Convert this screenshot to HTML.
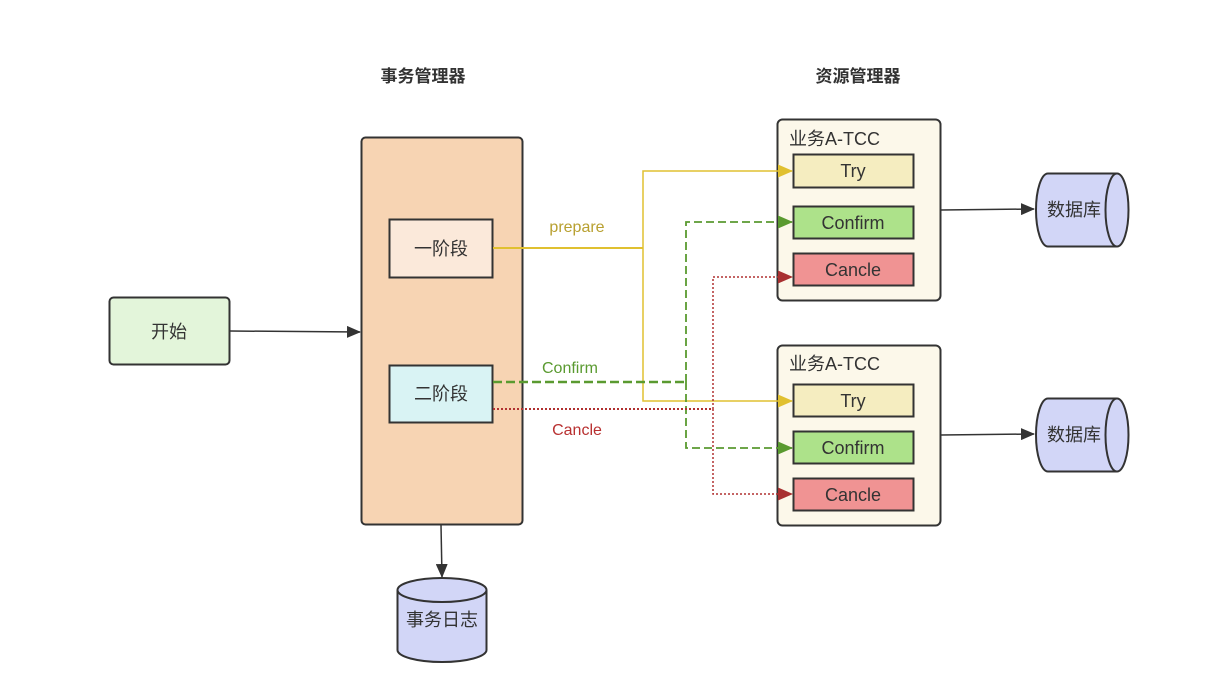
<!DOCTYPE html>
<html><head><meta charset="utf-8"><style>
html,body{margin:0;padding:0;background:#fff;}
svg{display:block;}
text{font-family:"Liberation Sans","Noto Sans CJK SC",sans-serif;fill:#333;}
</style></head><body>
<svg width="1213" height="687" viewBox="0 0 1213 687" xmlns="http://www.w3.org/2000/svg">
<defs>
<marker id="ak" markerWidth="14" markerHeight="12" refX="13" refY="6" orient="auto" markerUnits="userSpaceOnUse"><path d="M0,0 L14,6 L0,12 Z" fill="#333"/></marker>
<marker id="ay" markerWidth="15" markerHeight="13" refX="14" refY="6.5" orient="auto" markerUnits="userSpaceOnUse"><path d="M0,0 L15,6.5 L0,13 Z" fill="#e0c030"/></marker>
<marker id="ag" markerWidth="15" markerHeight="13" refX="14" refY="6.5" orient="auto" markerUnits="userSpaceOnUse"><path d="M0,0 L15,6.5 L0,13 Z" fill="#5a9a30"/></marker>
<marker id="ar" markerWidth="15" markerHeight="13" refX="14" refY="6.5" orient="auto" markerUnits="userSpaceOnUse"><path d="M0,0 L15,6.5 L0,13 Z" fill="#a83030"/></marker>
</defs>

<text x="423" y="82" font-size="17" font-weight="bold" text-anchor="middle">事务管理器</text>
<text x="858" y="82" font-size="17" font-weight="bold" text-anchor="middle">资源管理器</text>

<rect x="109.5" y="297.5" width="120" height="67" rx="4" fill="#e3f5da" stroke="#333" stroke-width="2"/>
<text x="169" y="338" font-size="18" text-anchor="middle">开始</text>
<line x1="230" y1="331" x2="360" y2="332" stroke="#333" stroke-width="1.5" marker-end="url(#ak)"/>

<rect x="361.5" y="137.5" width="161" height="387" rx="4" fill="#f7d4b3" stroke="#333" stroke-width="2"/>
<rect x="389.5" y="219.5" width="103" height="58" fill="#fbe9da" stroke="#333" stroke-width="2"/>
<text x="441" y="255" font-size="18" text-anchor="middle">一阶段</text>
<rect x="389.5" y="365.5" width="103" height="57" fill="#d9f3f4" stroke="#333" stroke-width="2"/>
<text x="441" y="400" font-size="18" text-anchor="middle">二阶段</text>

<line x1="441" y1="525" x2="442" y2="577" stroke="#333" stroke-width="1.5" marker-end="url(#ak)"/>
<path d="M397.5,590 L397.5,650 A44.5,12 0 0 0 486.5,650 L486.5,590" fill="#d2d6f7" stroke="#333" stroke-width="2"/>
<ellipse cx="442" cy="590" rx="44.5" ry="12" fill="#d2d6f7" stroke="#333" stroke-width="2"/>
<text x="442" y="626" font-size="18" text-anchor="middle">事务日志</text>

<g>
<rect x="777.5" y="119.5" width="163" height="181" rx="5" fill="#fcf8ea" stroke="#333" stroke-width="2"/>
<text x="789" y="145" font-size="18">业务A-TCC</text>
<rect x="793.5" y="154.5" width="120" height="33" fill="#f5edc0" stroke="#333" stroke-width="2"/>
<text x="853" y="177" font-size="18" text-anchor="middle">Try</text>
<rect x="793.5" y="206.5" width="120" height="32" fill="#ade28a" stroke="#333" stroke-width="2"/>
<text x="853" y="229" font-size="18" text-anchor="middle">Confirm</text>
<rect x="793.5" y="253.5" width="120" height="32" fill="#f09393" stroke="#333" stroke-width="2"/>
<text x="853" y="276" font-size="18" text-anchor="middle">Cancle</text>
</g>
<g>
<rect x="777.5" y="345.5" width="163" height="180" rx="5" fill="#fcf8ea" stroke="#333" stroke-width="2"/>
<text x="789" y="370" font-size="18">业务A-TCC</text>
<rect x="793.5" y="384.5" width="120" height="32" fill="#f5edc0" stroke="#333" stroke-width="2"/>
<text x="853" y="407" font-size="18" text-anchor="middle">Try</text>
<rect x="793.5" y="431.5" width="120" height="32" fill="#ade28a" stroke="#333" stroke-width="2"/>
<text x="853" y="454" font-size="18" text-anchor="middle">Confirm</text>
<rect x="793.5" y="478.5" width="120" height="32" fill="#f09393" stroke="#333" stroke-width="2"/>
<text x="853" y="501" font-size="18" text-anchor="middle">Cancle</text>
</g>

<g>
<line x1="941" y1="210" x2="1034" y2="209" stroke="#333" stroke-width="1.5" marker-end="url(#ak)"/>
<path d="M1117,173.5 L1048,173.5 A12,36.5 0 0 0 1048,246.5 L1117,246.5" fill="#d2d6f7" stroke="#333" stroke-width="2"/>
<ellipse cx="1117" cy="210" rx="11.5" ry="36.5" fill="#d2d6f7" stroke="#333" stroke-width="2"/>
<text x="1074" y="216" font-size="18" text-anchor="middle">数据库</text>
</g>
<g>
<line x1="941" y1="435" x2="1034" y2="434" stroke="#333" stroke-width="1.5" marker-end="url(#ak)"/>
<path d="M1117,398.5 L1048,398.5 A12,36.5 0 0 0 1048,471.5 L1117,471.5" fill="#d2d6f7" stroke="#333" stroke-width="2"/>
<ellipse cx="1117" cy="435" rx="11.5" ry="36.5" fill="#d2d6f7" stroke="#333" stroke-width="2"/>
<text x="1074" y="441" font-size="18" text-anchor="middle">数据库</text>
</g>

<polyline points="493,248 643,248" fill="none" stroke="#e0c030" stroke-width="2"/>
<polyline points="643,248 643,171 792,171" fill="none" stroke="#e0c030" stroke-width="1.5" marker-end="url(#ay)"/>
<polyline points="643,248 643,401 792,401" fill="none" stroke="#e0c030" stroke-width="1.5" marker-end="url(#ay)"/>
<text x="577" y="232" font-size="16" style="fill:#b8a030" text-anchor="middle">prepare</text>

<polyline points="493,382 686,382" fill="none" stroke="#5a9a30" stroke-width="2.5" stroke-dasharray="9,4"/>
<polyline points="686,382 686,222 792,222" fill="none" stroke="#5a9a30" stroke-width="1.8" stroke-dasharray="8,4" marker-end="url(#ag)"/>
<polyline points="686,382 686,448 792,448" fill="none" stroke="#5a9a30" stroke-width="1.8" stroke-dasharray="8,4" marker-end="url(#ag)"/>
<text x="570" y="373" font-size="16" style="fill:#5a9a30" text-anchor="middle">Confirm</text>

<polyline points="493,409 713,409" fill="none" stroke="#b03030" stroke-width="2" stroke-dasharray="2,2"/>
<polyline points="713,409 713,277 792,277" fill="none" stroke="#b03030" stroke-width="1.5" stroke-dasharray="2,2" marker-end="url(#ar)"/>
<polyline points="713,409 713,494 792,494" fill="none" stroke="#b03030" stroke-width="1.5" stroke-dasharray="2,2" marker-end="url(#ar)"/>
<text x="577" y="435" font-size="16" style="fill:#b83030" text-anchor="middle">Cancle</text>
</svg>
</body></html>
